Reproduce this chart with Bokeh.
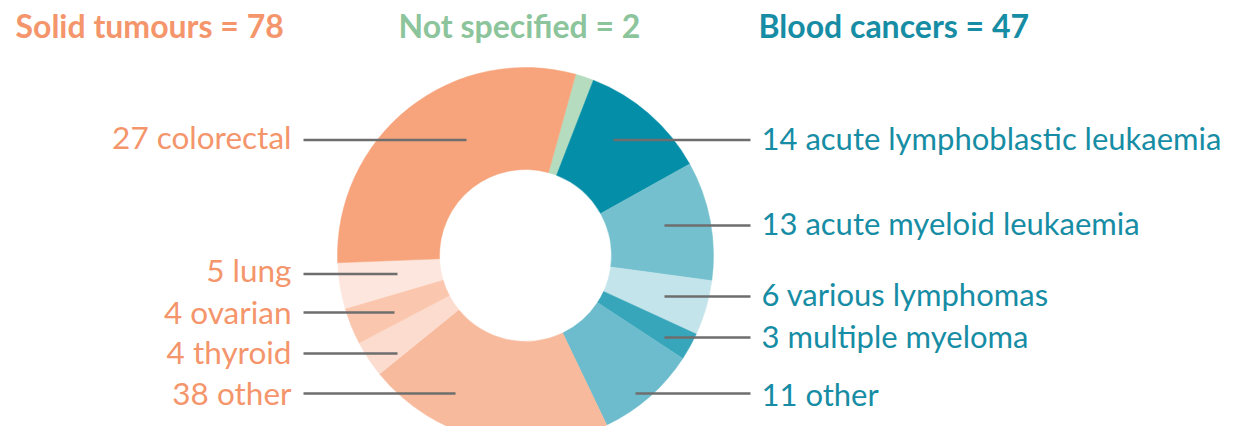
import math
from bokeh.plotting import figure
from bokeh.models import Range1d, ColumnDataSource
from bokeh.core.properties import value
from bokeh.embed import file_html
from bokeh.resources import INLINE

# ---- data (slices clockwise from the green one, sizes as drawn) ----
slice_labels = ["Not specified", "acute lymphoblastic leukaemia", "acute myeloid leukaemia",
                "various lymphomas", "multiple myeloma", "other (blood)",
                "other (solid)", "thyroid", "ovarian", "lung", "colorectal"]
slice_values = [2, 14, 13, 6, 3, 11, 27, 4, 4, 5, 38]
slice_colors = ["#b6dcbf", "#058ea8", "#74c0ce", "#c4e4eb", "#38a6ba", "#6cbccd",
                "#f8ba9c", "#fcdccf", "#fac6ad", "#fde6dd", "#f7a47c"]

group_titles = ["Solid tumours = 78", "Not specified =  2", "Blood cancers = 47"]
group_colors = ["#f4956b", "#8cc49b", "#168da4"]

left_labels = ["27 colorectal", "5 lung", "4 ovarian", "4 thyroid", "38 other"]
right_labels = ["14 acute lymphoblastic leukaemia", "13 acute myeloid leukaemia",
                "6 various lymphomas", "3 multiple myeloma", "11 other"]

# ---- layout (screen pixel coords of reference; y measured from top) ----
W, Hp = 1224, 426
H = 442
cx, cy = 525, 255
R_out, R_in = 188, 86
start_deg = 15.5  # clockwise from 12 o'clock

left_y = [139.5, 273.5, 312, 353, 393]
left_ty = [136, 269, 311.5, 351, 392]
left_x0 = [466, 397, 394, 397, 455]
right_y = [139.5, 225, 296, 337, 393]
right_ty = [137, 222.5, 293, 335, 393]
right_x0 = [613, 664, 664, 664, 635]

p = figure(width=W, height=Hp, output_backend="svg", toolbar_location=None,
           x_range=Range1d(0, W), y_range=Range1d(H - Hp, H),
           min_border=0)
p.axis.visible = False
p.grid.visible = False
p.outline_line_color = None
p.background_fill_color = "white"

total = sum(slice_values)
starts, ends = [], []
acc = start_deg
for v in slice_values:
    a0 = acc
    a1 = acc + v / total * 360.0
    starts.append(math.radians(90 - a0))
    ends.append(math.radians(90 - a1))
    acc = a1

src = ColumnDataSource(dict(start=starts, end=ends, color=slice_colors))
p.annular_wedge(x=cx, y=H - cy, inner_radius=R_in, outer_radius=R_out,
                start_angle="start", end_angle="end", direction="clock",
                fill_color="color", line_color="color", line_width=0.5, source=src)

line_col = "#6e6e6e"
p.segment(x0=[303] * len(left_y), y0=[H - y for y in left_y],
          x1=left_x0, y1=[H - y for y in left_y], line_color=line_col, line_width=2.5)
p.segment(x0=right_x0, y0=[H - y for y in right_y],
          x1=[750] * len(right_y), y1=[H - y for y in right_y], line_color=line_col, line_width=2.5)

p.text(x=[291] * len(left_labels), y=[H - y for y in left_ty], text=left_labels,
       text_font=value("Lato"), text_font_size="31.5px", text_color="#f4956b",
       text_align="right", text_baseline="middle")
p.text(x=[761] * len(right_labels), y=[H - y for y in right_ty], text=right_labels,
       text_font=value("Lato"), text_font_size="31px", text_color="#168da4",
       text_align="left", text_baseline="middle")

p.text(x=[15, 398, 758], y=[H - 25] * 3, text=group_titles,
       text_font=value("Lato"), text_font_size="32px", text_font_style="bold",
       text_color=group_colors, text_align="left", text_baseline="middle")

open("out.html", "w").write(file_html(p, INLINE))
